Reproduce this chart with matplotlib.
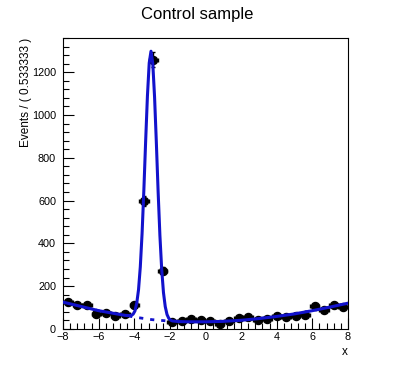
import numpy as np
import matplotlib
matplotlib.use("Agg")
import matplotlib.pyplot as plt
from matplotlib.ticker import MultipleLocator

plt.rcParams['font.family'] = ['Liberation Sans', 'DejaVu Sans']

# ===== data =====
BIN_W = 16.0 / 30
bin_centers = -8 + BIN_W / 2 + BIN_W * np.arange(30)
counts = [125, 112, 110, 70, 72, 62, 70, 110, 597, 1258,
          272, 32, 35, 45, 42, 38, 25, 35, 52, 55,
          40, 48, 58, 55, 62, 65, 105, 90, 110, 100]

# total fit curve (signal + background)
curve_x = [-8, -7, -6, -5, -4.5, -4.26, -4.16, -4.06, -3.96, -3.86, -3.76,
           -3.66, -3.56, -3.46, -3.36, -3.26, -3.16, -3.06, -2.96, -2.86,
           -2.76, -2.66, -2.56, -2.46, -2.36, -2.26, -2.16, -2.06, -1.96,
           -1.86, -1.5, -1, 0, 1, 2, 3, 4, 5, 6, 7, 8]
curve_y = [125, 105, 85, 70, 63, 62, 63, 69, 84, 120, 183,
           290, 447, 650, 878, 1089, 1243, 1298, 1241, 1085,
           872, 642, 437, 279, 170, 104, 67, 49, 41,
           37, 34, 33, 33, 35, 40, 48, 58, 70, 85, 102, 120]

# background component (dashed)
bkg_x = [-8, -7, -6, -5, -4.5, -4, -3, -2, -1, 0, 1, 2, 3, 4, 5, 6, 7, 8]
bkg_y = [125, 105, 85, 70, 63, 55, 43, 36, 33, 33, 35, 40, 48, 58, 70, 85, 102, 120]

# ===== plot =====
fig = plt.figure(figsize=(3.95, 3.72), dpi=100)
ax = fig.add_axes([0.1595, 0.116, 0.7215, 0.782])

BLUE = "#1212cc"
ax.plot(bkg_x, bkg_y, color=BLUE, lw=2.0, ls=(0, (1.5, 2.5)), zorder=2)
ax.errorbar(bin_centers, counts, xerr=BIN_W / 2, yerr=np.sqrt(counts),
            fmt="o", color="black", ms=5.8, lw=1, capsize=1.5, zorder=3)
ax.plot(curve_x, curve_y, color=BLUE, lw=2.2, zorder=4)

ax.set_xlim(-8, 8)
ax.set_ylim(0, 1360)
ax.xaxis.set_major_locator(MultipleLocator(2))
ax.xaxis.set_minor_locator(MultipleLocator(0.4))
ax.yaxis.set_major_locator(MultipleLocator(200))
ax.yaxis.set_minor_locator(MultipleLocator(40))
ax.tick_params(which="both", direction="in", top=False, right=False,
               labelsize=7.8, width=0.8)
ax.tick_params(axis="y", pad=5)
ax.tick_params(axis="x", pad=2)
ax.tick_params(which="major", length=8)
ax.tick_params(which="minor", length=4)
for s in ax.spines.values():
    s.set_linewidth(0.8)

ax.set_ylabel("Events / ( 0.533333 )", fontsize=8.5, loc="top")
ax.yaxis.set_label_coords(-0.11, 1.0)
ax.set_xlabel("x", fontsize=8.5, loc="right", labelpad=3)

fig.text(0.5, 0.962, "Control sample", ha="center", va="center", fontsize=12)

fig.savefig("out.png", dpi=100)
